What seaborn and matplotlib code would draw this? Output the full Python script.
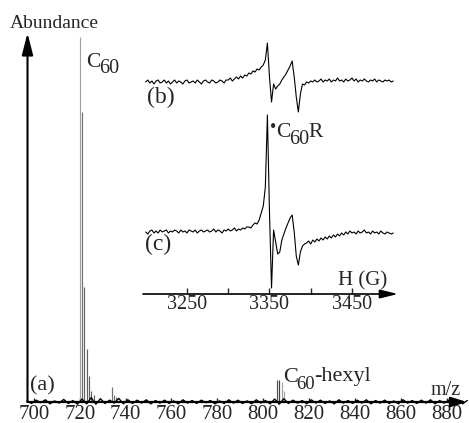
import numpy as np
import pandas as pd
import seaborn as sns
import matplotlib
matplotlib.use("Agg")
import matplotlib.pyplot as plt

# --- mass spectrum (a): stick peaks, relative abundance in % ---
peak_mz = [720, 721, 722, 723, 724, 725, 726, 734, 735, 736, 806, 807, 808, 809]
peak_ab = [100, 79.5, 31.5, 14.5, 7, 3, 2, 4, 2, 1.5, 6, 6, 5.4, 3]
peak_col = ['#a0a0a0', '#707070', '#606060', '#606060', '#606060', '#606060',
            '#606060', '#707070', '#707070', '#707070', '#505050', '#404040',
            '#a0a0a0', '#a0a0a0']

# baseline noise of the mass spectrum, one value every 2 m/z starting at 697
ms_noise = [0.3, -0.4, 0.5, -0.2, 0.6, -0.5, 0.3, -0.3, 0.7, -0.4,
            0.4, -0.6, 0.8, -0.5, 1.2, -0.6, 0.9, -0.4, 0.5, -0.3,
            1.0, -0.5, 0.6, -0.4, 0.5, -0.3, 0.6, -0.5, 0.4, -0.3,
            0.5, -0.4, 0.3, -0.5, 0.6, -0.3, 0.4, -0.4, 0.5, -0.2,
            0.4, -0.5, 0.3, -0.4, 0.6, -0.3, 0.5, -0.4, 0.3, -0.5,
            0.6, -0.3, 0.4, -0.5, 0.8, -0.6, 0.9, -0.4, 0.5, -0.3,
            0.4, -0.5, 0.6, -0.3, 0.5, -0.4, 0.3, -0.5, 0.6, -0.3,
            0.4, -0.4, 0.5, -0.3, 0.6, -0.5, 0.4, -0.3, 0.5, -0.4,
            0.3, -0.5, 0.6, -0.3, 0.4, -0.4, 0.5, -0.3, 0.6, -0.5,
            0.4, -0.3, 0.5, -0.4, 0.3, -0.5, 0.4]
ms_ticks = [700, 720, 740, 760, 780, 800, 820, 840, 860, 880]

# --- EPR spectra (b) and (c), field 3200..3500 G every 2.5 G, arbitrary units ---
epr_b = [0, 2, -1, 1, -2, 1, 2, -1, 0, 2,
         -1, 1, -2, 0, 2, -1, 1, 0, -2, 1,
         2, -1, 0, 1, -1, 2, 0, -2, 1, 2,
         0, -1, 2, 1, -1, 0, 2, 1, -1, 2,
         2, 4, 1, 3, 5, 3, 6, 4, 7, 6,
         9, 8, 11, 10, 13, 12, 15, 17, 22, 39,
         5, -20, -2, -7, -4, -2, 2, 5, 8, 12,
         16, 21, 5, -15, -30, -12, -2, -3, 0, -1,
         1, 0, 2, 0, 1, 3, 0, 2, 1, 3,
         0, 2, 1, 4, 1, 2, 0, 3, 1, 2,
         4, 1, 3, 0, 2, 1, 3, 1, 0, 2,
         1, 3, 0, 2, 1, 0, 2, 1, 2, 0,
         1]
epr_c = [0, -2, 1, 2, -1, 1, -1, 2, 0, 1,
         2, -1, 1, 0, 2, 1, -1, 2, 0, 1,
         -1, 2, 1, 0, 2, -1, 1, 2, 0, 1,
         2, 0, 1, 3, 0, 2, 1, -1, 2, 1,
         3, 1, 2, 4, 1, 3, 2, 4, 3, 5,
         5, 4, 7, 9, 8, 12, 19, 26, 45, 117,
         20, -56, 2, -10, -22, -20, -8, -2, 4, 9,
         14, 17, 0, -24, -33, -20, -14, -12, -11, -9,
         -12, -8, -10, -7, -9, -6, -8, -5, -7, -4,
         -6, -3, -5, -2, -4, -1, -3, 0, -2, 1,
         -1, 0, -2, 1, -1, 0, 2, -1, 0, -2,
         1, -1, 0, -2, 1, -1, -2, 0, -1, -2,
         -1]
epr_major = [3250, 3350, 3450]
epr_minor = [3300, 3400]

noise_mz = np.arange(697, 697 + 2 * len(ms_noise), 2)
field = np.linspace(3200, 3500, len(epr_b))

sns.set_style("white")
plt.rcParams['font.family'] = ['Liberation Serif', 'DejaVu Serif']

W, H = 469, 423
fig = plt.figure(figsize=(W / 100, H / 100), dpi=100)


def ptext(x, y, s, size):
    # x = left edge, y = baseline, both in pixels from top-left
    fig.text(x / W, 1 - y / H, s, fontsize=size, ha='left', va='baseline')


def arrow(ax, hl, hw, lw):
    style = '-|>,head_length=%s,head_width=%s' % (hl, hw)
    ax.annotate('', xy=(1, 0), xytext=(0, 0), xycoords='axes fraction',
                arrowprops=dict(arrowstyle=style, lw=lw, color='black',
                                shrinkA=0, shrinkB=0, mutation_scale=12),
                annotation_clip=False)


# main mass spectrum
ax = fig.add_axes([27.5 / W, (H - 402) / H, (467 - 27.5) / W, (402 - 33) / H])
ax.set_xlim(697.2, 888.9)
ax.set_ylim(0, 101.1)
ax.vlines(peak_mz, 0, peak_ab, colors=peak_col, linewidths=0.85)
sns.lineplot(x=noise_mz, y=ms_noise, ax=ax, color='black', lw=1.0)
ax.lines[-1].set_clip_on(False)
for s in ax.spines.values():
    s.set_visible(False)
arrow(ax, 0.8, 0.25, 1.6)
ax.annotate('', xy=(0, 1), xytext=(0, 0), xycoords='axes fraction',
            arrowprops=dict(arrowstyle='-|>,head_length=1.1,head_width=0.28',
                            lw=1.5, color='black', shrinkA=0, shrinkB=0,
                            mutation_scale=12),
            annotation_clip=False)
ax.set_xticks(ms_ticks)
ax.set_yticks([])
ax.tick_params(axis='x', direction='in', length=3, width=1, pad=2,
               labelsize=15, bottom=True)
ax.set_xlabel('')
ax.set_ylabel('')

# inset EPR spectra
ax2 = fig.add_axes([143 / W, (H - 294) / H, (398 - 143) / W, (294 - 38) / H])
ax2.patch.set_alpha(0)
ax2.set_xlim(3196.7, 3505.8)
ax2.set_ylim(0, 256)
sns.lineplot(x=field, y=np.array(epr_b) + 212, ax=ax2, color='black', lw=0.8)
sns.lineplot(x=field, y=np.array(epr_c) + 62, ax=ax2, color='black', lw=0.8)
for s in ax2.spines.values():
    s.set_visible(False)
arrow(ax2, 0.9, 0.22, 1.2)
ax2.set_xticks(epr_major)
ax2.set_xticks(epr_minor, minor=True)
ax2.set_yticks([])
ax2.tick_params(axis='x', which='both', direction='in', length=4, width=1,
                pad=1, labelsize=14.5, bottom=True)
ax2.set_xlabel('')
ax2.set_ylabel('')

# labels
ptext(10, 28, 'Abundance', 14)
ptext(86, 67, 'C', 15.5)
ptext(99.5, 73, '60', 14.5)
ptext(30, 390, '(a)', 16)
ptext(283, 382, 'C', 16)
ptext(296.5, 389, '60', 13.5)
ptext(314, 381, '-hexyl', 16)
ptext(431, 395, 'm/z', 14.5)
ptext(147, 103, '(b)', 17)
ptext(145, 250, '(c)', 17)
ptext(269.5, 132, '•', 13)
ptext(276, 137, 'C', 15.5)
ptext(289.5, 143.5, '60', 14.5)
ptext(308.5, 137, 'R', 15.5)
ptext(338, 285, 'H (G)', 15)

fig.savefig('out.png', dpi=100)
